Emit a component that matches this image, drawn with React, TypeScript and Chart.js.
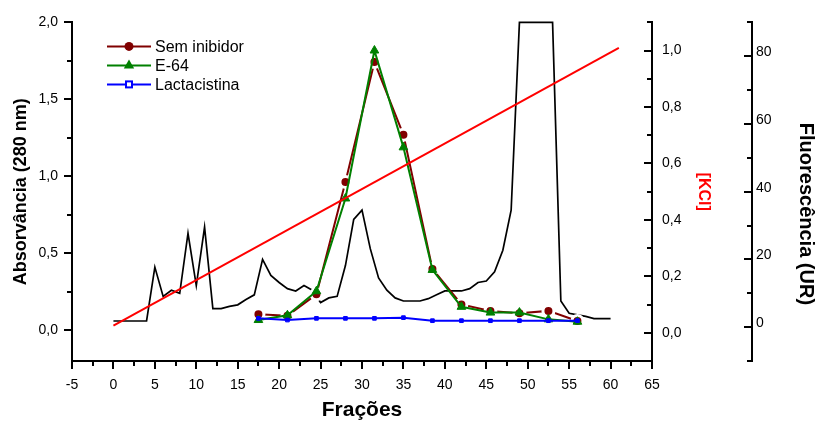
import React, { useEffect, useRef } from 'react';
import { Chart, registerables } from 'chart.js';

Chart.register(...registerables);

// ---------- data ----------
const fractions = [
  0, 1, 2, 3, 4, 5, 6, 7, 8, 9, 10, 11, 12, 13, 14, 15, 16, 17, 18, 19, 20,
  21, 22, 23, 24, 25, 26, 27, 28, 29, 30, 31, 32, 33, 34, 35, 36, 37, 38, 39, 40,
  41, 42, 43, 44, 45, 46, 47, 48, 49, 50, 51, 52, 53, 54, 55, 56, 57, 58, 59, 60,
];
const absorbance = [
  0.06, 0.06, 0.06, 0.06, 0.06, 0.41, 0.22, 0.26, 0.24, 0.63,
  0.29, 0.67, 0.14, 0.14, 0.155, 0.165, 0.2, 0.23, 0.46, 0.356,
  0.31, 0.27, 0.255, 0.29, 0.26, 0.18, 0.21, 0.22, 0.42, 0.72,
  0.78, 0.53, 0.34, 0.26, 0.21, 0.19, 0.19, 0.19, 0.205, 0.23,
  0.255, 0.255, 0.255, 0.27, 0.31, 0.32, 0.38, 0.52, 0.78, 2.0,
  2.0, 2.0, 2.0, 2.0, 0.19, 0.11, 0.1, 0.09, 0.075, 0.075,
  0.075,
];
const kclFractions = [0, 61];
const kclValues = [0.025, 1.01];

const assayFractions = [17.5, 21, 24.5, 28, 31.5, 35, 38.5, 42, 45.5, 49, 52.5, 56];
const semInibidor = [3.8, 3.4, 9.7, 42.9, 78.3, 56.8, 17.2, 6.7, 4.8, 4.1, 4.8, 1.8];
const e64 = [2.1, 3.5, 10.6, 38.0, 81.7, 53.1, 16.9, 6.0, 4.3, 4.3, 2.3, 1.6];
const lactacistina = [2.6, 2.1, 2.6, 2.6, 2.6, 2.8, 1.9, 1.9, 1.9, 1.9, 1.9, 1.9];

const seriesLabels = ['Sem inibidor', 'E-64', 'Lactacistina'];

// tick labels
const xTicks = [-5, 0, 5, 10, 15, 20, 25, 30, 35, 40, 45, 50, 55, 60, 65];
const absTicks = [0, 0.5, 1.0, 1.5, 2.0];
const kclTicks = [0, 0.2, 0.4, 0.6, 0.8, 1.0];
const fluorTicks = [0, 20, 40, 60, 80];

// minor tick positions
const xMinor = [-2.5, 2.5, 7.5, 12.5, 17.5, 22.5, 27.5, 32.5, 37.5, 42.5, 47.5, 52.5, 57.5, 62.5];
const absMinor = [0.25, 0.75, 1.25, 1.75];
const kclMinor = [-0.1, 0.1, 0.3, 0.5, 0.7, 0.9, 1.1];
const fluorMinor = [-10, 10, 30, 50, 70, 90];

const pts = (xs: number[], ys: number[]) => xs.map((x, i) => ({ x, y: ys[i] }));
const comma = (v: number) => Number(v).toFixed(1).replace('.', ',');

const FONT = "'Liberation Sans', Arial, Helvetica, sans-serif";
const DARKRED = '#800000';
const GREEN = '#008000';
const BLUE = '#0000ff';

const tickPlugin = {
  id: 'axisTicks',
  afterDraw(chart: any) {
    const ctx = chart.ctx;
    const specs = [
      { id: 'x', major: xTicks, minor: xMinor },
      { id: 'y', major: absTicks, minor: absMinor },
      { id: 'kcl', major: kclTicks, minor: kclMinor },
      { id: 'fl', major: fluorTicks, minor: fluorMinor },
    ];
    ctx.save();
    ctx.strokeStyle = '#000';
    ctx.lineWidth = 2;
    ctx.lineCap = 'butt';
    for (const sp of specs) {
      const s = chart.scales[sp.id];
      const draw = (v: number, len: number) => {
        ctx.beginPath();
        if (sp.id === 'x') {
          const x = Math.round(s.getPixelForValue(v));
          ctx.moveTo(x, s.top);
          ctx.lineTo(x, s.top + len);
        } else {
          const y = Math.round(s.getPixelForValue(v));
          const x0 = sp.id === 'y' ? s.right : s.left;
          ctx.moveTo(x0, y);
          ctx.lineTo(x0 - len, y);
        }
        ctx.stroke();
      };
      sp.major.forEach((v) => draw(v, 8));
      sp.minor.forEach((v) => draw(v, 5));
    }
    ctx.restore();
  },
};

const legendPlugin = {
  id: 'insideLegend',
  afterDraw(chart: any) {
    const ctx = chart.ctx;
    const { left, top } = chart.chartArea;
    const x0 = left + 35;
    const x1 = left + 79;
    const xm = (x0 + x1) / 2;
    const xt = left + 83;
    const styles = [
      { color: DARKRED, marker: 'circle' },
      { color: GREEN, marker: 'triangle' },
      { color: BLUE, marker: 'square' },
    ];
    ctx.save();
    seriesLabels.forEach((label, i) => {
      const y = top + 24 + i * 19;
      const st = styles[i];
      ctx.strokeStyle = st.color;
      ctx.fillStyle = st.color;
      ctx.lineWidth = 2;
      ctx.beginPath();
      ctx.moveTo(x0, y);
      ctx.lineTo(x1, y);
      ctx.stroke();
      ctx.beginPath();
      if (st.marker === 'circle') {
        ctx.arc(xm, y, 4.5, 0, Math.PI * 2);
        ctx.fill();
      } else if (st.marker === 'triangle') {
        const r = 6;
        ctx.moveTo(xm, y - r);
        ctx.lineTo(xm + 0.866 * r, y + 0.5 * r);
        ctx.lineTo(xm - 0.866 * r, y + 0.5 * r);
        ctx.closePath();
        ctx.fill();
      } else {
        ctx.fillRect(xm - 4, y - 4, 8, 8);
        ctx.fillStyle = '#fff';
        ctx.fillRect(xm - 2, y - 2, 4, 4);
      }
      ctx.fillStyle = '#000';
      ctx.font = `16px ${FONT}`;
      ctx.textBaseline = 'middle';
      ctx.textAlign = 'left';
      ctx.fillText(label, xt, y + 1);
    });
    ctx.restore();
  },
};

const NBSP = '\u00a0';

export default function App() {
  const ref = useRef<HTMLCanvasElement>(null);

  useEffect(() => {
    document.body.style.margin = '0';
    Chart.defaults.font.family = FONT;
    Chart.defaults.color = '#000';
    const canvas = ref.current!;
    const chart = new Chart(canvas, {
      type: 'line',
      data: {
        datasets: [
          {
            label: '[KCl]',
            data: pts(kclFractions, kclValues),
            yAxisID: 'kcl',
            borderColor: '#ff0000',
            borderWidth: 2,
            pointRadius: 0,
            order: 0,
          },
          {
            label: seriesLabels[2],
            data: pts(assayFractions, lactacistina),
            yAxisID: 'fl',
            borderColor: BLUE,
            backgroundColor: BLUE,
            borderWidth: 2,
            pointStyle: 'rect',
            pointRadius: 2.6,
            pointBorderWidth: 1,
            order: 1,
          },
          {
            label: seriesLabels[1],
            data: pts(assayFractions, e64),
            yAxisID: 'fl',
            borderColor: GREEN,
            backgroundColor: GREEN,
            borderWidth: 2,
            pointStyle: 'triangle',
            pointRadius: 5,
            pointBorderWidth: 1,
            order: 2,
          },
          {
            label: seriesLabels[0],
            data: pts(assayFractions, semInibidor),
            yAxisID: 'fl',
            borderColor: DARKRED,
            backgroundColor: DARKRED,
            borderWidth: 2,
            pointStyle: 'circle',
            pointRadius: 5.5,
            pointBorderWidth: 3,
            pointBorderColor: '#ffffff',
            order: 3,
          },
          {
            label: 'Absorvância',
            data: pts(fractions, absorbance),
            yAxisID: 'y',
            borderColor: '#000',
            borderWidth: 1.7,
            pointRadius: 0,
            clip: false as any,
            order: 4,
          },
        ],
      },
      options: {
        responsive: false,
        animation: false,
        devicePixelRatio: 1,
        layout: { padding: { top: 17, left: 0, right: 0, bottom: 0 } },
        plugins: {
          legend: { display: false },
          tooltip: { enabled: false },
        },
        elements: { line: { tension: 0 } },
        scales: {
          x: {
            type: 'linear',
            position: 'bottom',
            min: -5,
            max: 65,
            grid: { display: false, drawTicks: false },
            border: { display: true, color: '#000', width: 2 },
            afterBuildTicks: (s: any) => {
              s.ticks = xTicks.map((v) => ({ value: v }));
            },
            ticks: {
              color: '#000',
              font: { size: 14 },
              padding: 16,
              maxRotation: 0,
              autoSkip: false,
              callback: (v: any) => String(v),
            },
            title: {
              display: true,
              text: 'Frações',
              color: '#000',
              font: { size: 21, weight: 'bold' },
              padding: { top: 0, bottom: 3 },
            },
            afterFit: (s: any) => {
              s.height = 65;
            },
          },
          y: {
            type: 'linear',
            position: 'left',
            min: -0.2,
            max: 2.0,
            grid: { display: false, drawTicks: false },
            border: { display: true, color: '#000', width: 2 },
            afterBuildTicks: (s: any) => {
              s.ticks = absTicks.map((v) => ({ value: v }));
            },
            ticks: {
              color: '#000',
              font: { size: 14 },
              padding: 14,
              callback: (v: any) => comma(v),
            },
            title: {
              display: true,
              text: 'Absorvância (280 nm)',
              color: '#000',
              font: { size: 18, weight: 'bold' },
              padding: { top: 10, bottom: 0 },
            },
            afterFit: (s: any) => {
              s.width = 72;
            },
          },
          kcl: {
            type: 'linear',
            position: 'right',
            min: -0.1,
            max: 1.1,
            grid: { display: false, drawTicks: false },
            border: { display: true, color: '#000', width: 2 },
            afterBuildTicks: (s: any) => {
              s.ticks = kclTicks.map((v) => ({ value: v }));
            },
            ticks: {
              color: '#000',
              font: { size: 14 },
              padding: 10,
              callback: (v: any) => comma(v),
            },
            title: {
              display: true,
              text: '[KCl]',
              color: '#ff0000',
              font: { size: 16, weight: 'bold' },
              padding: { top: 39, bottom: 0 },
            },
            afterFit: (s: any) => {
              s.width = 100;
            },
          },
          fl: {
            type: 'linear',
            position: 'right',
            min: -10,
            max: 90,
            grid: { display: false, drawTicks: false },
            border: { display: true, color: '#000', width: 2 },
            afterBuildTicks: (s: any) => {
              s.ticks = fluorTicks.map((v) => ({ value: v }));
            },
            ticks: {
              color: '#000',
              font: { size: 14 },
              padding: 4,
              labelOffset: -4,
              callback: (v: any) => String(v),
            },
            title: {
              display: true,
              text: NBSP.repeat(8) + 'Fluorescência (UR)',
              color: '#000',
              font: { size: 20, weight: 'bold' },
              padding: { top: 2, bottom: 0 },
            },
            afterFit: (s: any) => {
              s.width = 68;
            },
          },
        },
      } as any,
      plugins: [tickPlugin, legendPlugin],
    });
    return () => chart.destroy();
  }, []);

  return (
    <div style={{ position: 'relative', width: 820, height: 426 }}>
      <canvas ref={ref} width={820} height={426} style={{ display: 'block', width: 820, height: 426 }} />
    </div>
  );
}
